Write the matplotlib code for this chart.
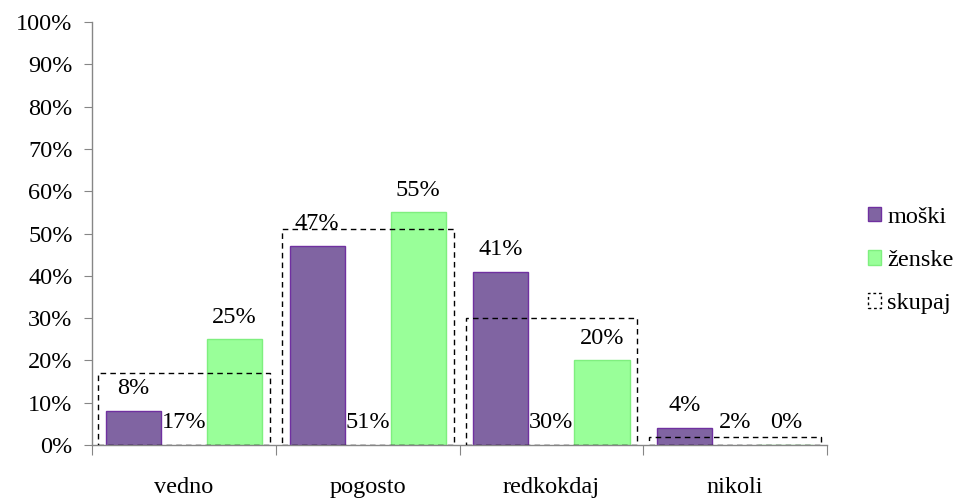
import matplotlib
matplotlib.use("Agg")
import matplotlib.pyplot as plt
import numpy as np
from matplotlib.patches import Patch
from matplotlib.ticker import FixedLocator, NullFormatter

categories = ["vedno", "pogosto", "redkokdaj", "nikoli"]
moski = [8, 47, 41, 4]
zenske = [25, 55, 20, 0]
skupaj = [17, 51, 30, 2]
yticks = [0, 10, 20, 30, 40, 50, 60, 70, 80, 90, 100]

plt.rcParams["font.family"] = ["Liberation Serif", "DejaVu Serif"]
FS = 17.5

fig = plt.figure(figsize=(9.64, 4.98), dpi=100)
ax = fig.add_axes([0.0954, 0.1064, 0.7626, 0.8494])

x = np.arange(len(categories))
bw = 0.30
off = 0.275

c_m, e_m = "#8064A2", "#7030A0"
c_z, e_z = "#99FF99", "#7FEF7F"

ax.bar(x - off, moski, bw, color=c_m, edgecolor=e_m, linewidth=1.0, zorder=2)
ax.bar(x + off, zenske, bw, color=c_z, edgecolor=e_z, linewidth=1.0, zorder=2)
ax.bar(x, skupaj, 0.935, fill=False, edgecolor="black", linewidth=1.0,
       linestyle=(0, (4, 3)), zorder=3)

for xi, v in zip(x - off, moski):
    ax.annotate(f"{v}%", (xi, v), xytext=(0, 16), textcoords="offset points",
                ha="center", va="center", fontsize=FS)
for xi, v in zip(x + off, zenske):
    ax.annotate(f"{v}%", (xi, v), xytext=(0, 16), textcoords="offset points",
                ha="center", va="center", fontsize=FS)
for xi, v in zip(x, skupaj):
    ax.annotate(f"{v}%", (xi, 0), xytext=(0, 16), textcoords="offset points",
                ha="center", va="center", fontsize=FS)

ax.set_xlim(-0.5, len(categories) - 0.5)
ax.set_ylim(0, 100)
ax.set_yticks(yticks)
ax.set_yticklabels([f"{t}%" for t in yticks], fontsize=FS)

ax.xaxis.set_major_locator(FixedLocator(np.arange(len(categories) + 1) - 0.5))
ax.xaxis.set_major_formatter(NullFormatter())
ax.xaxis.set_minor_locator(FixedLocator(x))
ax.set_xticklabels(categories, minor=True, fontsize=FS)
ax.tick_params(axis="x", which="minor", length=0, pad=23)
ax.tick_params(axis="x", which="major", length=7, color="#868686", direction="out")
ax.tick_params(axis="y", length=6, color="#868686", direction="out", pad=8)

for s in ["top", "right"]:
    ax.spines[s].set_visible(False)
for s in ["left", "bottom"]:
    ax.spines[s].set_color("#868686")
    ax.spines[s].set_linewidth(1.0)

handles = [
    Patch(facecolor=c_m, edgecolor=e_m, label="moški"),
    Patch(facecolor=c_z, edgecolor=e_z, label="ženske"),
    Patch(facecolor="none", edgecolor="black", linestyle=(0, (2, 2)), label="skupaj"),
]
fig.legend(handles=handles, loc="center left", bbox_to_anchor=(0.89, 0.477),
           frameon=False, fontsize=FS, handlelength=0.55, handleheight=0.55,
           handletextpad=0.25, labelspacing=0.92, borderaxespad=0)

fig.savefig("out.png", dpi=100)
